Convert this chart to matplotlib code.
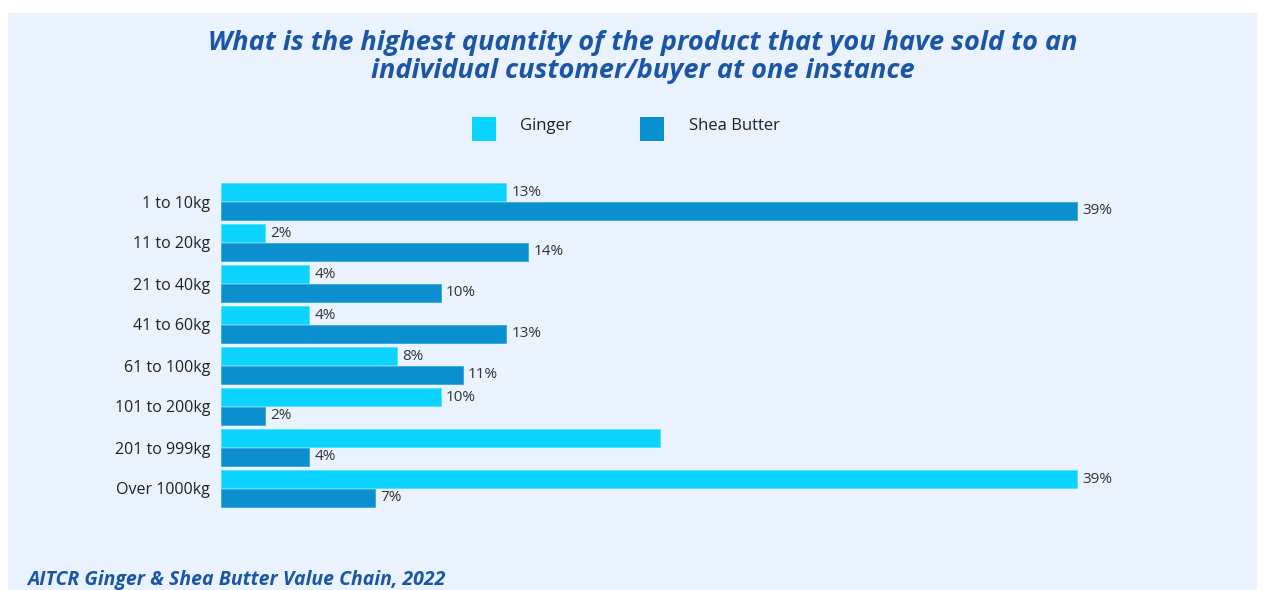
import numpy as np
import matplotlib.pyplot as plt
from matplotlib.patches import Rectangle

plt.rcParams['font.family'] = ['Open Sans', 'DejaVu Sans']

# Survey answers: share of respondents per quantity band
categories = ['1 to 10kg', '11 to 20kg', '21 to 40kg', '41 to 60kg',
              '61 to 100kg', '101 to 200kg', '201 to 999kg', 'Over 1000kg']
ginger = [13, 2, 4, 4, 8, 10, 20, 39]
shea_butter = [39, 14, 10, 13, 11, 2, 4, 7]
# the 201 to 999kg ginger bar carries no label
ginger_labels = ['13%', '2%', '4%', '4%', '8%', '10%', '', '39%']
shea_labels = ['39%', '14%', '10%', '13%', '11%', '2%', '4%', '7%']
series_names = ['Ginger', 'Shea Butter']

ginger_color = '#0AD4FF'
shea_color = '#0A90CE'
title_color = '#1B55A6'
panel_color = '#EAF2FD'

W, H = 1265, 590
fig = plt.figure(figsize=(W / 100, H / 100), dpi=100)
fig.patch.set_facecolor('white')


def fx(px):
    return px / W


def fy(py):
    return 1 - py / H


# light blue card behind everything
fig.patches.append(Rectangle((fx(8), 0), fx(1249), fy(13), transform=fig.transFigure,
                             facecolor=panel_color, edgecolor='none', zorder=-10))

ax = fig.add_axes([fx(221), fy(509), fx(988), 328 / H])
ax.set_facecolor('none')

y = np.arange(len(categories))
h = 0.44
ax.barh(y - 0.225, ginger, height=h, color=ginger_color, edgecolor='#4FE0FF', linewidth=0.6)
ax.barh(y + 0.225, shea_butter, height=h, color=shea_color, edgecolor='#3AA6DA', linewidth=0.6)

for i in range(len(categories)):
    if ginger_labels[i]:
        ax.text(ginger[i] + 0.25, y[i] - 0.225, ginger_labels[i], va='center', ha='left',
                fontsize=11, color='#333333')
    ax.text(shea_butter[i] + 0.25, y[i] + 0.225, shea_labels[i], va='center', ha='left',
            fontsize=11, color='#333333')

ax.set_xlim(0, 45)
ax.set_ylim(len(categories) - 0.5, -0.5)
ax.set_yticks(y)
ax.set_yticklabels(categories, fontsize=11.5, color='#222222')
ax.tick_params(axis='y', length=0, pad=8)
ax.set_xticks([])
for s in ax.spines.values():
    s.set_visible(False)

# two-line title, each line placed on its own baseline
title_lines = ['What is the highest quantity of the product that you have sold to an',
               'individual customer/buyer at one instance']
for line, base in zip(title_lines, [50, 78]):
    fig.text(fx(643), fy(base), line, ha='center', va='baseline', fontsize=19.5,
             fontweight='bold', style='italic', color=title_color)

# legend: square swatches with the name beside them
for name, color, sq_x, txt_x in zip(series_names, [ginger_color, shea_color], [472, 640], [520, 689]):
    fig.patches.append(Rectangle((fx(sq_x), fy(141)), fx(24), 24 / H, transform=fig.transFigure,
                                 facecolor=color, edgecolor='none'))
    fig.text(fx(txt_x), fy(130), name, ha='left', va='baseline', fontsize=12, color='#222222')

fig.text(fx(27), fy(585), 'AITCR Ginger & Shea Butter Value Chain, 2022', ha='left',
         va='baseline', fontsize=14, fontweight='bold', style='italic', color=title_color)

fig.savefig('out.png', dpi=100, facecolor=fig.get_facecolor())
